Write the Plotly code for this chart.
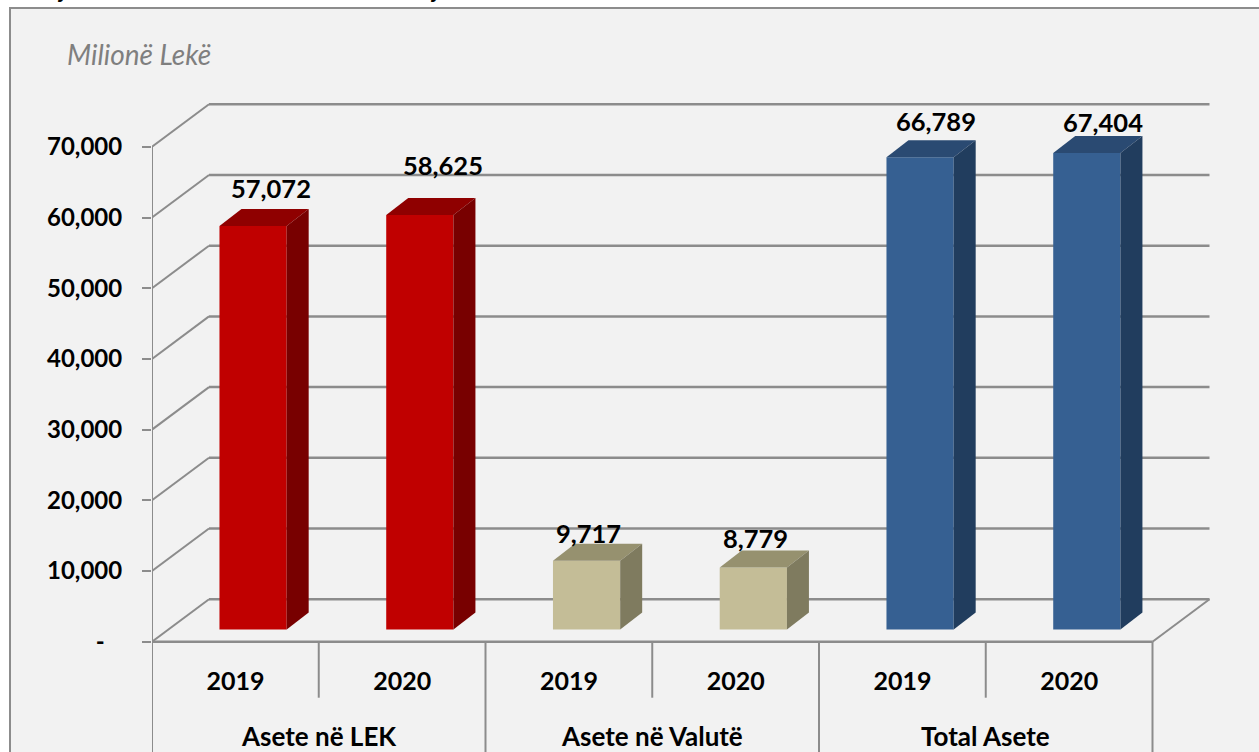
import plotly.graph_objects as go

# ---- data ----
groups = ["Asete në LEK", "Asete në Valutë", "Total Asete"]
years = ["2019", "2020", "2019", "2020", "2019", "2020"]
values = [57072, 58625, 9717, 8779, 66789, 67404]
y_ticks = [0, 10000, 20000, 30000, 40000, 50000, 60000, 70000]
y_tick_labels = ["-\u00a0\u00a0\u00a0", "10,000", "20,000", "30,000", "40,000", "50,000", "60,000", "70,000"]

# ---- styles ----
front = ["#C00000", "#C00000", "#C4BD97", "#C4BD97", "#366092", "#366092"]
top = ["#8F0000", "#8F0000", "#96916F", "#96916F", "#2A4A72", "#2A4A72"]
side = ["#780000", "#780000", "#7F7B5F", "#7F7B5F", "#213D5E", "#213D5E"]
label_dx = [17.5, 23.5, 2, 1.7, 16, 16.5]
label_dy = [38, 50, 28, 29, 36, 31]
GRID = "#8C8C8C"
FONT = "Lato"

# ---- geometry (pixels of the page -> axis units) ----
W, H = 1259, 752
L = 152
ZERO_PX = 641.7
CAT_PX = 166.75
PX_PER_UNIT = 70.7 / 10000
px_x = lambda p: p / CAT_PX
px_y = lambda p: p / PX_PER_UNIT
y_top = px_y(ZERO_PX)
y_bot = -px_y(H - ZERO_PX)
x_max = px_x(W - L)
wall_dx, wall_dy = px_x(57), px_y(42.5)
bar_w = 0.403
bar_shift = px_x(17.7)
bar_base = px_y(12.2)
depth_dx, depth_dy = px_x(22), px_y(17)
n = len(values)
centers = [i + 0.5 for i in range(n)]
bar_x = [c + bar_shift for c in centers]

line = lambda x0, y0, x1, y1, w=2.5, c=GRID: dict(
    type="line", xref="x", yref="y", x0=x0, y0=y0, x1=x1, y1=y1,
    line=dict(color=c, width=w), layer="below")

shapes = [dict(type="rect", xref="paper", yref="paper",
               x0=(10 - L) / (W - L), x1=1.1, y0=-0.1, y1=1 - 8 / H,
               fillcolor="#F2F2F2", line=dict(color=GRID, width=2), layer="below")]
for t in y_ticks:
    shapes.append(line(0, t, wall_dx, t + wall_dy, 2))
    shapes.append(line(wall_dx, t + wall_dy, n + wall_dx, t + wall_dy, 2.5))
shapes.append(line(0, 0, n, 0, 2.5))
shapes.append(line(n, 0, n + wall_dx, wall_dy, 2))
shapes.append(line(0, y_bot, 0, max(y_ticks), 2))
for i in range(1, n + 1):
    low = y_bot if i % 2 == 0 else -px_y(56)
    shapes.append(line(i, 0, i, low, 2))

fig = go.Figure()
fig.add_trace(go.Bar(x=bar_x, y=values, base=bar_base, width=bar_w,
                     marker=dict(color=front, line=dict(width=0)), showlegend=False))
for i, v in enumerate(values):
    x0, x1 = bar_x[i] - bar_w / 2, bar_x[i] + bar_w / 2
    yt = v + bar_base
    fig.add_trace(go.Scatter(
        x=[x0, x1, x1 + depth_dx, x0 + depth_dx, x0],
        y=[yt, yt, yt + depth_dy, yt + depth_dy, yt],
        mode="lines", fill="toself", fillcolor=top[i], line=dict(width=0), showlegend=False))
    fig.add_trace(go.Scatter(
        x=[x1, x1 + depth_dx, x1 + depth_dx, x1, x1],
        y=[bar_base, bar_base + depth_dy, yt + depth_dy, yt, bar_base],
        mode="lines", fill="toself", fillcolor=side[i], line=dict(width=0), showlegend=False))


def bold(size):
    return dict(family=FONT, size=size, color="#000000", weight="bold")


annotations = []
for i, v in enumerate(values):
    annotations.append(dict(x=bar_x[i], y=v + bar_base, xref="x", yref="y", text=f"{v:,}",
                            showarrow=False, xshift=label_dx[i], yshift=label_dy[i], font=bold(25.5)))
for g, name in enumerate(groups):
    annotations.append(dict(x=2 * g + 1, y=-px_y(94), xref="x", yref="y", text=name,
                            showarrow=False, font=bold(26)))
annotations.append(dict(x=(65 - L) / (W - L), y=1 - 54 / H, xref="paper", yref="paper",
                        xanchor="left", yanchor="middle", text="Milionë Lekë", showarrow=False,
                        font=dict(family=FONT, size=28, color="#7F7F7F", style="italic")))
for px in (55, 428):
    annotations.append(dict(x=(px - L) / (W - L), y=1 - 5 / H, xref="paper", yref="paper",
                            yanchor="bottom", text="j", showarrow=False,
                            font=dict(family=FONT, size=23, color="#000000", style="italic", weight="bold")))

fig.update_layout(
    width=W, height=H, margin=dict(l=L, r=0, t=0, b=0),
    paper_bgcolor="#FFFFFF", plot_bgcolor="rgba(0,0,0,0)",
    showlegend=False, shapes=shapes, annotations=annotations,
    xaxis=dict(range=[0, x_max], anchor="free", position=(H - ZERO_PX) / H,
               tickmode="array", tickvals=centers, ticktext=years,
               showgrid=False, zeroline=False, showline=False, ticks="",
               ticklabelstandoff=22, tickfont=bold(25)),
    yaxis=dict(range=[y_bot, y_top], tickmode="array", tickvals=y_ticks, ticktext=y_tick_labels,
               showgrid=False, zeroline=False, showline=False,
               ticks="outside", ticklen=9, tickwidth=2, tickcolor=GRID,
               ticklabelstandoff=15, tickfont=bold(24)),
)
fig.write_html("out.html", config=dict(displayModeBar=False),
               post_script="document.body.style.margin='0';document.body.style.overflow='hidden';")
